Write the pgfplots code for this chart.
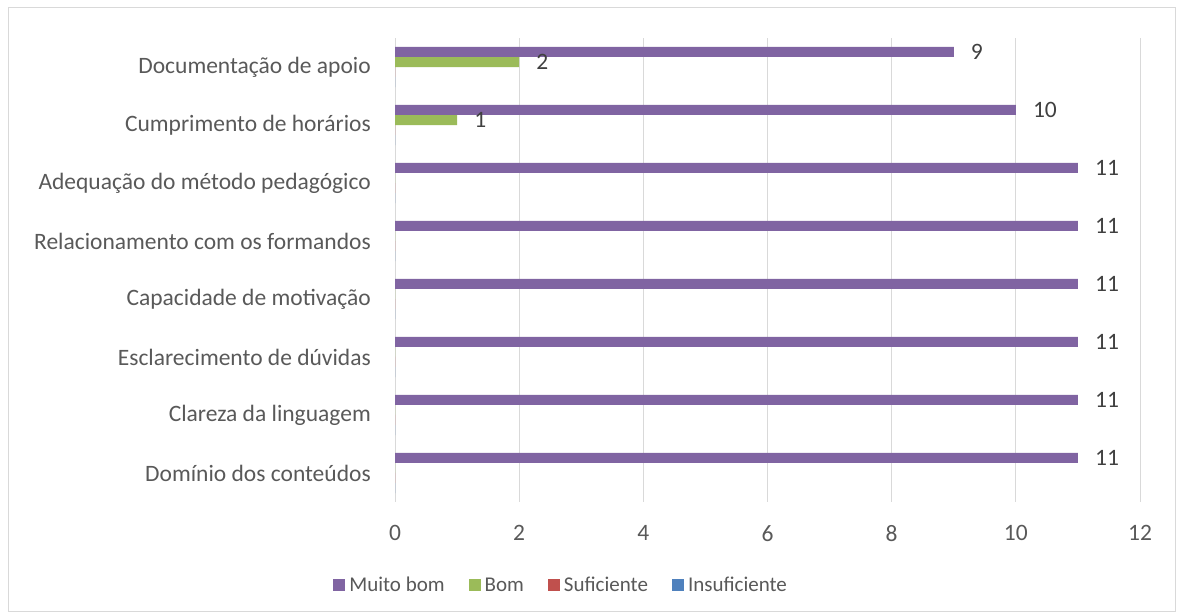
\documentclass[border=0pt]{standalone}
\usepackage{fontspec}
\setmainfont{Carlito}
\usepackage{pgfplots}
\pgfplotsset{compat=1.18}
\definecolor{cMB}{HTML}{8064A2}
\definecolor{cB}{HTML}{9BBB59}
\definecolor{cS}{HTML}{C0504D}
\definecolor{cI}{HTML}{4F81BD}
\definecolor{gridc}{HTML}{D9D9D9}
\definecolor{textc}{HTML}{595959}
\definecolor{labc}{HTML}{404040}
\begin{document}
\begin{tikzpicture}
\useasboundingbox (0pt,0pt) rectangle (1178pt,615pt);
\draw[color=gridc, line width=1pt] (8pt,3pt) rectangle (1175pt,607pt);
\begin{axis}[
  at={(395pt,113pt)}, anchor=south west,
  scale only axis, width=745pt, height=464pt,
  xbar, xmin=0, xmax=12, ymin=-0.5, ymax=7.5,
  xtick={0,2,...,12}, ytick={0,...,7},
  yticklabels={Domínio dos conteúdos, Clareza da linguagem, Esclarecimento de dúvidas, Capacidade de motivação, Relacionamento com os formandos, Adequação do método pedagógico, Cumprimento de horários, Documentação de apoio},
  axis line style={draw=none}, major tick length=0pt,
  xmajorgrids, grid style={gridc, line width=1pt},
  /pgf/number format/assume math mode=true,
  ticklabel style={font=\fontsize{23.5}{28}\selectfont, text=textc, inner sep=0pt},
  xticklabel style={anchor=north, yshift=-23pt},
  yticklabel style={anchor=east, xshift=-24pt},
  bar width=0.172,
  nodes near coords style={font=\fontsize{23.5}{28}\selectfont, text=labc, anchor=west, inner sep=0pt, xshift=17pt},
  legend columns=4,
  legend style={at={(0.223,-0.179)}, anchor=center, draw=none, font=\fontsize{21}{25}\selectfont, text=textc,
    /tikz/every even column/.append style={column sep=22pt}},
  legend image code/.code={\fill[#1] (0pt,-6pt) rectangle (12pt,6pt); \path (14pt,0pt);},
]
\addplot[fill=cMB, draw=none, bar shift=0.259, point meta=explicit symbolic, nodes near coords]
  coordinates {(11,0) [11] (11,1) [11] (11,2) [11] (11,3) [11] (11,4) [11] (11,5) [11] (10,6) [10] (9,7) [9]};
\addplot[fill=cB, draw=none, bar shift=0.086, point meta=explicit symbolic, nodes near coords]
  coordinates {(0,0) [] (0,1) [] (0,2) [] (0,3) [] (0,4) [] (0,5) [] (1,6) [1] (2,7) [2]};
\addplot[fill=cS, draw=none, bar shift=-0.086]
  coordinates {(0,0) (0,1) (0,2) (0,3) (0,4) (0,5) (0,6) (0,7)};
\addplot[fill=cI, draw=none, bar shift=-0.259]
  coordinates {(0,0) (0,1) (0,2) (0,3) (0,4) (0,5) (0,6) (0,7)};
\legend{Muito bom, Bom, Suficiente, Insuficiente}
\end{axis}
\end{tikzpicture}
\end{document}
